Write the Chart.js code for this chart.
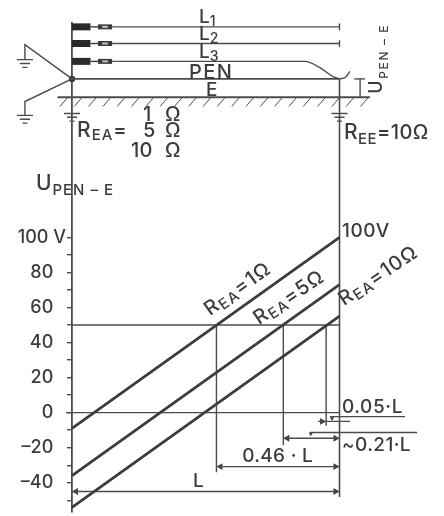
<!DOCTYPE html>
<html lang="en">

<head>
    <meta charset="UTF-8">
    <title>UPEN-E</title>
    <script src="https://cdn.jsdelivr.net/npm/chart.js@4"></script>
    <style>
        html, body { margin: 0; background: #fff; }
        canvas { display: block; filter: blur(0.45px); }
    </style>
</head>

<body>
    <canvas id="chart" width="444" height="516"></canvas>
    <script>
        // x is the share of the line length L, y is volts
        const lineEnds = [0, 1];
        const rea1Values = [-9, 100];
        const rea5Values = [-36, 73];
        const rea10Values = [-54, 55];
        const yTicks = [-50, -40, -30, -20, -10, 0, 10, 20, 30, 40, 50, 60, 70, 80, 90, 100];
        const touchLimit = 50;
        const crossings = [0.54, 0.79, 0.95];
        const dropEnds = [-34, -18.6, -7.5];

        // the network sketch above the chart, same units
        const yL1 = 220.1, yL2 = 210.6, yL3 = 200.4, yPen = 190.4, yEarth = 180;
        const phases = [yL1, yL2, yL3];
        const l3CurveX = [0.15, 0.871, 0.927, 0.976, 1];
        const l3CurveY = [yL3, yL3, 196.8, 191.7, yPen];
        // past the x max, listed backwards or the line controller trims it
        const l3HookX = [1.039, 1.021, 1];
        const l3HookY = [194.7, 191.2, yPen];
        const groundSpots = [[-0.176, 201.4], [-0.176, 169.6], [0, 170.7], [1, 170.7]];

        const INK = "#3c3c3c";
        const THIN = "#4c4c4c";
        const FONT = "Inter, 'Liberation Sans'";

        const datasets = [];
        function addLine(xs, ys, width, color, extra) {
            datasets.push(Object.assign({
                data: xs.map((x, i) => ({ x: x, y: ys[i] })),
                borderColor: color || THIN,
                borderWidth: width || 1.4,
                pointRadius: 0,
                tension: 0,
                spanGaps: false,
                clip: false
            }, extra || {}));
        }
        function addArrows(points, size) {
            datasets.push({
                data: points.map(p => ({ x: p[0], y: p[1] })),
                showLine: false,
                pointStyle: "triangle",
                pointRadius: size || 4,
                pointRotation: points.map(p => p[2]),
                pointBackgroundColor: INK,
                pointBorderColor: INK,
                pointBorderWidth: 0,
                clip: false
            });
        }

        // curves
        addLine(lineEnds, rea1Values, 2.8, INK);
        addLine(lineEnds, rea5Values, 2.8, INK);
        addLine(lineEnds, rea10Values, 2.8, INK);

        // levels, drops and dimension lines
        addLine([0, 1], [touchLimit, touchLimit]);
        addLine([-0.022, 1], [0, 0]);
        addLine([1, 1], [yPen, -48.2], 1.6);
        crossings.forEach((c, i) => addLine([c, c], [touchLimit, dropEnds[i]]));
        addLine([0, 1], [-45, -45]);
        addLine([0.54, 1], [-30.8, -30.8]);
        addLine([0.79, 1], [-14.6, -14.6]);
        addLine([0.92, 1.04], [-5, -5]);
        addLine([0.9645, 1.245], [-2.3, -2.3]);
        addLine([0.89, 1.29], [-11.3, -11.3]);
        addArrows([[0.015, -45, -90], [0.985, -45, 90], [0.555, -30.8, -90], [0.985, -30.8, 90],
            [0.805, -14.6, -90], [0.985, -14.6, 90], [0.935, -5, 90], [1.015, -5, -90]]);
        addArrows([[0.972, -3.4, 180], [0.893, -12, 180]], 2.5);

        // phases
        phases.forEach(y => {
            addLine([0.113, 0.134], [y, y], 2, "#c4c4c4");
            addLine([0.097, 0.15], [y, y], 5, INK);
            addLine([0, 0.069], [y, y], 7, "#2a2a2a");
            addLine([0.069, 0.097], [y, y], 1.4, INK);
        });
        addLine([0.15, 1], [yL1, yL1]);
        addLine([0.15, 1], [yL2, yL2]);
        addLine([1, 1, null, 1, 1], [yL1 + 1.9, yL1 - 1.9, null, yL2 + 1.9, yL2 - 1.9]);
        addLine(l3CurveX, l3CurveY, 1.4, THIN, { cubicInterpolationMode: "monotone" });
        addLine(l3HookX, l3HookY, 1.4, THIN, { tension: 0.4 });

        // PEN, star point and earth
        addLine([0, 1], [yPen, yPen], 1.6);
        addLine([1.055, 1.095], [yPen, yPen], 1.4);
        addLine([0, -0.176, -0.176], [yPen, 209.9, 201.4], 1.4);
        addLine([0, -0.176, -0.176], [yPen, 177.5, 169.6], 1.4);
        datasets.push({ data: [{ x: 0, y: yPen }], showLine: false, pointRadius: 3.2, pointBackgroundColor: INK, pointBorderWidth: 0, clip: false });
        addLine([-0.054, 1.114], [yEarth, yEarth], 2);
        const hatchX = [], hatchY = [];
        for (let k = 0; k < 22; k++) {
            hatchX.push(-0.045 + 0.0535 * k, -0.015 + 0.0535 * k, null);
            hatchY.push(174.7, yEarth, null);
        }
        addLine(hatchX, hatchY, 1);
        groundSpots.forEach(s => {
            const gx = [], gy = [];
            [0.03, 0.019, 0.0093].forEach((half, i) => {
                gx.push(s[0] - half, s[0] + half, null);
                gy.push(s[1] - 2.2 * i, s[1] - 2.2 * i, null);
            });
            addLine(gx, gy, 1.4);
        });

        // U(PEN-E) arrow at the right end
        addLine([1.077, 1.077], [yPen, yEarth], 1.4);
        addArrows([[1.077, 188.2, 0], [1.077, 182.2, 180]], 4);

        // text: parts are [text, size, drop below the baseline]
        const notes = [
            { x: 0.475, y: 222.3, parts: [["L", 19, 0], ["1", 14, 3]] },
            { x: 0.475, y: 212.7, parts: [["L", 19, 0], ["2", 14, 3]] },
            { x: 0.475, y: 202.5, parts: [["L", 19, 0], ["3", 14, 3]] },
            { x: 0.437, y: 190.6, gap: 1.5, parts: [["PEN", 20, 0]] },
            { x: 0.501, y: 180.4, parts: [["E", 19, 0]] },
            { x: 0.265, y: 166.2, parts: [["1", 20, 0]] },
            { x: 0.348, y: 166.2, parts: [["Ω", 20, 0]] },
            { x: 0.019, y: 157.1, gap: 1, parts: [["R", 21, 0], ["EA", 15, 3], ["=", 20, 0]] },
            { x: 0.265, y: 157.1, parts: [["5", 20, 0]] },
            { x: 0.348, y: 157.1, parts: [["Ω", 20, 0]] },
            { x: 0.221, y: 145.8, parts: [["10", 20, 0]] },
            { x: 0.348, y: 145.8, parts: [["Ω", 20, 0]] },
            { x: 1.017, y: 156, gap: 0.4, parts: [["R", 21, 0], ["EE", 15, 5], ["=10Ω", 20, 0]] },
            { x: -0.135, y: 127, gap: 1, parts: [["U", 21, 0], ["PEN – E", 15, 5]] },
            { x: 1.159, y: 182, rot: -90, gap: 1.6, parts: [["U", 18, 0], ["PEN – E", 12, 6]] },
            { x: 0.516, y: 55, rot: -35.5, gap: 1.2, parts: [["R", 20, 0], ["EA", 15, 3], ["=1Ω", 20, 0]] },
            { x: 0.699, y: 49.9, rot: -34, gap: 1.2, parts: [["R", 20, 0], ["EA", 15, 3], ["=5Ω", 20, 0]] },
            { x: 1.017, y: 60.7, rot: -34, gap: 1.2, parts: [["R", 20, 0], ["EA", 15, 3], ["=10Ω", 20, 0]] },
            { x: 1.009, y: 100.4, gap: 0.6, parts: [["100V", 19, 0]] },
            { x: 1.009, y: -0.4, gap: 0.6, parts: [["0.05·L", 19, 0]] },
            { x: 1.009, y: -22.1, gap: 0.4, parts: [["~0.21·L", 19, 0]] },
            { x: 0.636, y: -28.4, gap: 0.3, parts: [["0.46 · L", 19, 0]] },
            { x: 0.452, y: -42.5, parts: [["L", 19, 0]] }
        ];

        const notesPlugin = {
            id: "notes",
            afterDraw(chart) {
                const ctx = chart.ctx;
                notes.forEach(n => {
                    ctx.save();
                    ctx.translate(chart.scales.x.getPixelForValue(n.x), chart.scales.y.getPixelForValue(n.y));
                    ctx.rotate((n.rot || 0) * Math.PI / 180);
                    ctx.fillStyle = INK;
                    ctx.textBaseline = "alphabetic";
                    ctx.letterSpacing = (n.gap || 0) + "px";
                    let left = 0;
                    n.parts.forEach(p => {
                        ctx.font = "500 " + p[1] + "px " + FONT;
                        ctx.fillText(p[0], left, p[2]);
                        left += ctx.measureText(p[0]).width;
                    });
                    ctx.restore();
                });
            }
        };

        new Chart(document.getElementById("chart"), {
            type: "line",
            data: { datasets: datasets },
            plugins: [notesPlugin],
            options: {
                responsive: false,
                animation: false,
                layout: { padding: { left: 0, right: 104.5, top: 23, bottom: 1 } },
                plugins: { legend: { display: false }, tooltip: { enabled: false } },
                scales: {
                    x: { type: "linear", min: 0, max: 1, display: false },
                    y: {
                        type: "linear",
                        min: -56.7,
                        max: 222.3,
                        afterBuildTicks(scale) { scale.ticks = yTicks.map(v => ({ value: v })); },
                        afterFit(scale) { scale.width = 72; scale.paddingTop = 0; scale.paddingBottom = 0; },
                        border: { display: true, color: THIN, width: 1.8 },
                        grid: { drawOnChartArea: false, drawTicks: true, tickLength: 5, color: THIN, lineWidth: 1.4 },
                        ticks: {
                            autoSkip: false,
                            padding: 1,
                            color: INK,
                            font: { family: FONT, size: 18, weight: "500" },
                            callback(v) {
                                if (v === 100) return "100 V";
                                if (v % 20 !== 0) return "";
                                return (v < 0 ? "–" + (-v) : String(v)) + "  \u2009";
                            }
                        }
                    }
                }
            }
        });
    </script>
</body>

</html>
